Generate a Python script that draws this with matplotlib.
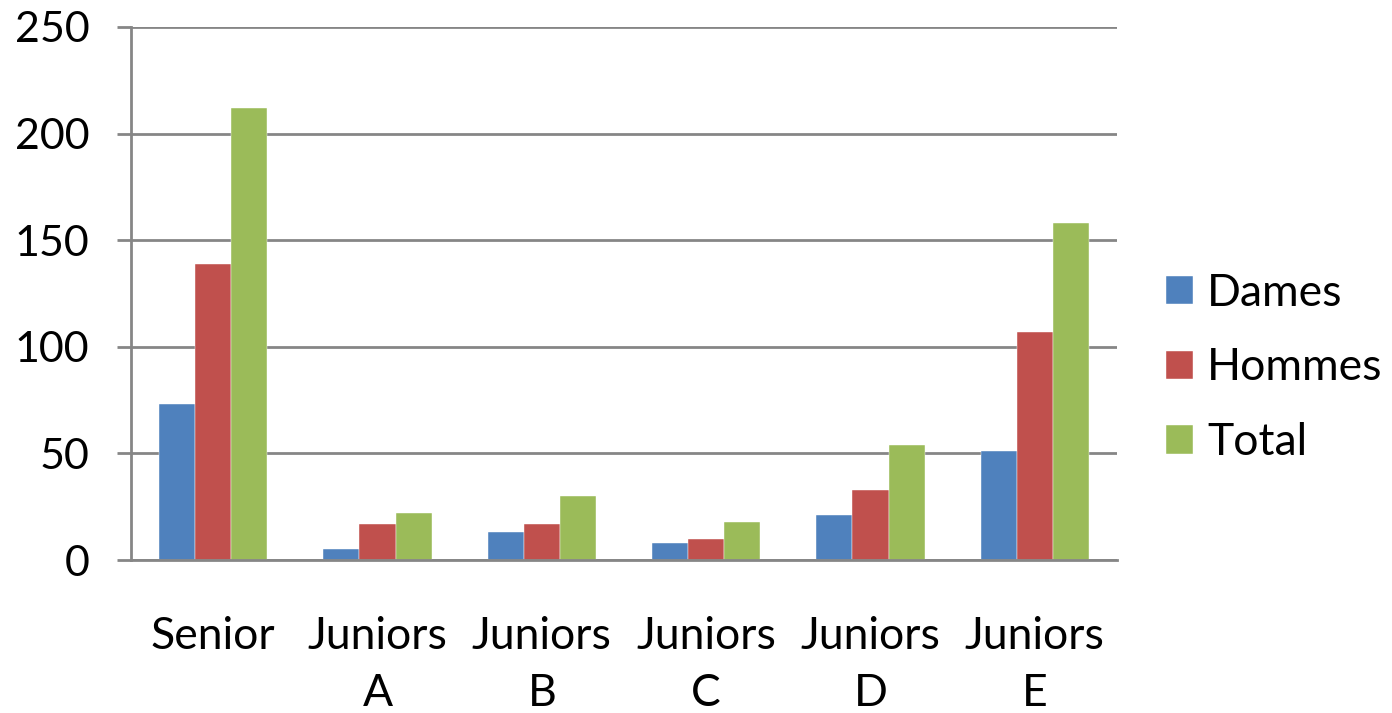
import matplotlib
matplotlib.use("Agg")
import matplotlib.pyplot as plt
import numpy as np

categories = ["Senior", "Juniors\nA", "Juniors\nB", "Juniors\nC", "Juniors\nD", "Juniors\nE"]
series_names = ["Dames", "Hommes", "Total"]
dames = [73, 5, 13, 8, 21, 51]
hommes = [139, 17, 17, 10, 33, 107]
total = [212, 22, 30, 18, 54, 158]
yticks = [0, 50, 100, 150, 200, 250]
colors = ["#4F81BD", "#C0504D", "#9BBB59"]

plt.rcParams['font.family'] = ['Lato', 'DejaVu Sans']

fig = plt.figure(figsize=(13.92, 7.13), dpi=100)
ax = fig.add_axes([131/1392, 1 - 560/713, (1117-131)/1392, (560-27)/713])

x = np.arange(len(categories))
w = 0.22
for i, (vals, name) in enumerate(zip([dames, hommes, total], series_names)):
    ax.bar(x + (i - 1) * w, vals, width=w, color=colors[i], label=name, zorder=3,
           edgecolor='white', linewidth=0.3)

ax.set_xlim(-0.5, len(categories) - 0.5)
ax.set_ylim(0, 250)
ax.set_yticks(yticks)
ax.set_yticklabels([str(v) for v in yticks], fontsize=31)
ax.set_xticks(x)
ax.set_xticklabels(categories, fontsize=32, linespacing=1.49)
ax.tick_params(axis='x', length=0, pad=40)
ax.tick_params(axis='y', length=10, width=2, color='#868686', pad=20)
ax.yaxis.grid(True, color='#868686', linewidth=2, zorder=0)
for s in ['top', 'right']:
    ax.spines[s].set_visible(False)
for s in ['left', 'bottom']:
    ax.spines[s].set_color('#868686')
    ax.spines[s].set_linewidth(2)
    ax.spines[s].set_zorder(4)

leg = ax.legend(loc='center left', bbox_to_anchor=(1166/1392, 1 - 368/713),
                bbox_transform=fig.transFigure, frameon=False, fontsize=32,
                borderpad=0, borderaxespad=0,
                handlelength=0.61, handleheight=0.61, handletextpad=0.32, labelspacing=0.76)

fig.savefig("out.png", dpi=100)
